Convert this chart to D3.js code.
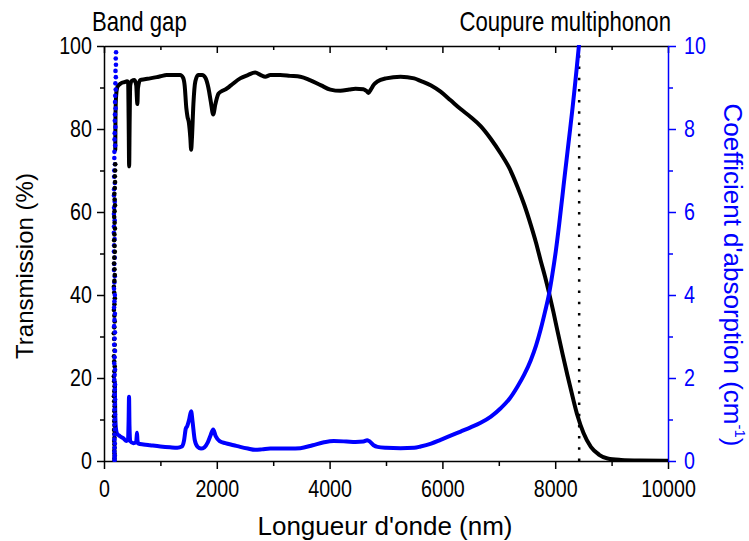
<!DOCTYPE html>
<html>
<head>
<meta charset="utf-8">
<script src="https://cdn.jsdelivr.net/npm/d3@7"></script>
<style>
  html, body { margin: 0; padding: 0; background: #fff; }
  svg { display: block; font-family: "Liberation Sans", Arial, sans-serif; }
</style>
</head>
<body>
<svg id="chart" width="749" height="541"></svg>
<script>
// ---------------- data ----------------
// Transmission (%) vs wavelength (nm)
const transWl  = [200, 203, 208, 218, 240, 300, 360, 410, 428, 437, 446, 455, 465, 491, 540, 572, 583, 592, 602, 640, 720, 817, 936, 1000, 1112, 1200, 1350, 1400, 1430, 1460, 1480, 1505, 1530, 1545, 1560, 1585, 1620, 1670, 1740, 1800, 1850, 1895, 1936, 1975, 2030, 2100, 2150, 2250, 2415, 2550, 2680, 2780, 2860, 2950, 3126, 3300, 3481, 3650, 3850, 4014, 4192, 4350, 4458, 4600, 4666, 4690, 4730, 4790, 4843, 5000, 5258, 5500, 5613, 5800, 5968, 6146, 6323, 6500, 6678, 6860, 7034, 7190, 7330, 7450, 7567, 7660, 7744, 7820, 7893, 7970, 8041, 8130, 8218, 8310, 8396, 8500, 8632, 8780, 8929, 9165, 9500, 10000];
const transVal = [75, 82, 86, 88.5, 90.2, 91.0, 91.3, 91.5, 91.2, 82, 71, 82, 90.5, 91.6, 91.8, 90.5, 87.5, 86, 89.8, 91.8, 92.0, 92.2, 92.5, 92.7, 93.0, 93.0, 93.0, 92.4, 90.5, 85, 83, 81.5, 78, 75, 78, 86, 91.5, 93.0, 93.0, 92.3, 90, 86.5, 83.5, 86, 88.5, 89.2, 89.5, 90.5, 92.2, 93.0, 93.6, 93.0, 92.6, 93.0, 93.0, 92.8, 92.6, 91.8, 90.5, 89.5, 89.2, 89.5, 89.7, 89.6, 89.0, 88.7, 89.5, 90.8, 91.4, 92.2, 92.6, 92.2, 91.6, 90.5, 89.0, 86.9, 84.8, 82.9, 80.7, 77.6, 74.1, 70.5, 66.1, 61.8, 56.9, 52.6, 48.2, 44.4, 40.4, 35.8, 31.3, 25.8, 20.6, 15.4, 10.9, 6.8, 3.4, 1.5, 0.6, 0.25, 0.1, 0.05];

// Transmission absorption-edge points (sparse, shown as dots)
const transEdgeWl  = [186, 185, 188, 186, 183, 187, 185, 181, 186, 184, 179, 188, 183, 178, 185, 189, 181, 176, 183, 188, 180, 175, 184, 190, 181, 176, 186, 189, 180, 174, 182, 190, 184, 176, 185, 192, 181, 175, 184, 191, 186, 178, 183, 192, 187, 180, 185, 194, 188, 181, 187, 195, 189, 184, 191, 196, 192, 197, 199];
const transEdgeVal = [0, 0.6, 1.2, 1.8, 2.5, 3.2, 4.0, 4.8, 5.6, 6.5, 7.5, 8.5, 9.6, 10.8, 12, 13.2, 14.4, 15.6, 16.8, 18, 19.2, 20.4, 21.6, 22.8, 24, 25.2, 26.6, 28, 29.4, 30.8, 32.2, 33.6, 35, 36.4, 37.8, 39.2, 40.6, 42, 43.4, 44.8, 46.2, 47.6, 49, 50.4, 51.8, 53.2, 54.6, 56, 57.4, 58.8, 60.2, 61.6, 63, 64.4, 65.8, 67.2, 68.6, 70, 71.5];

// Absorption coefficient (cm-1) vs wavelength (nm)
const absWl  = [193, 196, 200, 206, 214, 230, 280, 340, 400, 425, 436, 444, 452, 465, 520, 570, 580, 586, 593, 610, 700, 817, 1000, 1172, 1300, 1380, 1420, 1450, 1475, 1510, 1545, 1570, 1610, 1660, 1720, 1780, 1840, 1890, 1936, 1980, 2050, 2150, 2300, 2415, 2550, 2680, 2800, 2950, 3126, 3300, 3481, 3700, 3900, 4073, 4300, 4458, 4600, 4666, 4700, 4780, 4850, 5000, 5258, 5500, 5613, 5800, 5968, 6146, 6323, 6500, 6678, 6860, 7034, 7190, 7330, 7450, 7567, 7660, 7744, 7820, 7893, 7950, 8010, 8070, 8129, 8175, 8218, 8265, 8307, 8350, 8384, 8420, 8440];
const absVal = [1.9, 1.45, 1.1, 0.88, 0.76, 0.66, 0.6, 0.55, 0.48, 0.52, 0.95, 1.55, 0.85, 0.48, 0.43, 0.45, 0.6, 0.68, 0.5, 0.42, 0.4, 0.38, 0.35, 0.33, 0.32, 0.35, 0.5, 0.78, 0.84, 1.0, 1.2, 0.95, 0.5, 0.34, 0.3, 0.33, 0.45, 0.62, 0.76, 0.6, 0.48, 0.43, 0.38, 0.34, 0.3, 0.27, 0.28, 0.3, 0.3, 0.3, 0.31, 0.38, 0.45, 0.48, 0.47, 0.46, 0.47, 0.5, 0.48, 0.38, 0.34, 0.32, 0.31, 0.32, 0.35, 0.42, 0.51, 0.61, 0.71, 0.81, 0.92, 1.07, 1.27, 1.5, 1.79, 2.08, 2.43, 2.78, 3.18, 3.6, 4.04, 4.5, 5.05, 5.7, 6.4, 6.95, 7.45, 8.0, 8.5, 9.05, 9.5, 10.0, 10.3];

// Absorption-edge points near the band gap (sparse, shown as dots)
const absEdgeWl  = [214, 208, 212, 204, 210, 202, 208, 199, 196, 206, 194, 192, 202, 190, 187, 198, 185, 183, 195, 182, 180, 192, 179, 177, 190, 178, 176, 189, 177, 175, 188, 180, 176, 190, 182, 177, 191, 184, 178, 192, 185, 179, 193, 186, 180, 194, 187, 181, 195, 188, 182, 196, 189, 183, 196, 190, 184, 197, 191, 185, 195, 190, 186, 193, 189, 185, 192, 188, 185, 190, 187, 188];
const absEdgeVal = [9.85, 9.7, 9.55, 9.4, 9.25, 9.1, 8.95, 8.8, 8.65, 8.5, 8.35, 8.2, 8.05, 7.9, 7.75, 7.6, 7.45, 7.3, 7.15, 7.0, 6.85, 6.7, 6.55, 6.4, 6.25, 6.1, 5.95, 5.8, 5.65, 5.5, 5.35, 5.2, 5.05, 4.9, 4.75, 4.6, 4.45, 4.3, 4.15, 4.0, 3.85, 3.7, 3.55, 3.4, 3.25, 3.1, 2.95, 2.8, 2.65, 2.5, 2.35, 2.2, 2.08, 1.96, 1.84, 1.72, 1.6, 1.48, 1.36, 1.24, 1.12, 1.0, 0.88, 0.76, 0.64, 0.52, 0.42, 0.32, 0.22, 0.14, 0.07, 0.02];

// Markers and axes
const multiphononWl = 8425;
const xTicks = [0, 2000, 4000, 6000, 8000, 10000];
const yLeftTicks = [0, 20, 40, 60, 80, 100];
const yRightTicks = [0, 2, 4, 6, 8, 10];
const labels = { bandGap: "Band gap", multiphonon: "Coupure multiphonon",
                 x: "Longueur d'onde (nm)", yLeft: "Transmission (%)", yRight: "Coefficient d'absorption (cm" };

// ---------------- layout ----------------
const W = 749, H = 541;
const m = { left: 104, right: 81, top: 46, bottom: 80 };
const pw = W - m.left - m.right, ph = H - m.top - m.bottom;
const BLUE = "#0000ff";
const NARROW = 0.82;   // the reference uses a narrow face for ticks and notes

const svg = d3.select("#chart");
const g = svg.append("g").attr("transform", `translate(${m.left},${m.top})`);

const x = d3.scaleLinear().domain([0, 10000]).range([0, pw]);
const yL = d3.scaleLinear().domain([0, 100]).range([ph, 0]);
const yR = d3.scaleLinear().domain([0, 10]).range([ph, 0]);

g.append("defs").append("clipPath").attr("id", "clip")
  .append("rect").attr("x", 0).attr("y", -1).attr("width", pw).attr("height", ph + 2);

// horizontally condense a text around its own anchor point
function narrow(sel) {
  sel.each(function () {
    const t = d3.select(this);
    const x0 = +(t.attr("x") || 0);
    t.attr("x", x0 / NARROW).attr("transform", `scale(${NARROW},1)`);
  });
}

// ---------------- axes ----------------
function styleAxis(sel, color) {
  sel.selectAll("path.domain").attr("stroke", color).attr("stroke-width", 1.5);
  sel.selectAll(".tick line").attr("stroke", color).attr("stroke-width", 1.5);
  sel.selectAll(".tick text").attr("fill", color).style("font-size", "24px")
     .style("font-family", "'Liberation Sans', Arial, sans-serif").call(narrow);
}
const minorX = d3.range(1000, 10000, 2000);
const minorY = d3.range(10, 100, 20);
const minorYR = d3.range(1, 10, 2);
const fmt = d3.format("d");

// bottom
const gxB = g.append("g").attr("transform", `translate(0,${ph})`)
  .call(d3.axisBottom(x).tickValues(xTicks).tickFormat(fmt).tickSize(8).tickPadding(11).tickSizeOuter(0));
styleAxis(gxB, "#000");
g.append("g").attr("transform", `translate(0,${ph})`)
  .call(d3.axisBottom(x).tickValues(minorX).tickSize(5).tickFormat(""))
  .call(s => { s.select(".domain").remove(); s.selectAll("text").remove(); styleAxis(s, "#000"); });
// top (inward ticks)
const gxT = g.append("g")
  .call(d3.axisBottom(x).tickValues(xTicks).tickSize(7).tickFormat("").tickSizeOuter(0))
  .call(s => s.selectAll("text").remove());
styleAxis(gxT, "#000");
g.append("g").call(d3.axisBottom(x).tickValues(minorX).tickSize(4).tickFormat(""))
  .call(s => { s.select(".domain").remove(); s.selectAll("text").remove(); styleAxis(s, "#000"); });
// left
const gyL = g.append("g")
  .call(d3.axisLeft(yL).tickValues(yLeftTicks).tickFormat(fmt).tickSize(7).tickPadding(5).tickSizeOuter(0));
styleAxis(gyL, "#000");
g.append("g").call(d3.axisLeft(yL).tickValues(minorY).tickSize(4).tickFormat(""))
  .call(s => { s.select(".domain").remove(); s.selectAll("text").remove(); styleAxis(s, "#000"); });
// right (blue)
const gyR = g.append("g").attr("transform", `translate(${pw},0)`)
  .call(d3.axisRight(yR).tickValues(yRightTicks).tickFormat(fmt).tickSize(8).tickPadding(8).tickSizeOuter(0));
styleAxis(gyR, BLUE);
g.append("g").attr("transform", `translate(${pw},0)`)
  .call(d3.axisRight(yR).tickValues(minorYR).tickSize(5).tickFormat(""))
  .call(s => { s.select(".domain").remove(); s.selectAll("text").remove(); styleAxis(s, BLUE); });

// ---------------- marks ----------------
const plot = g.append("g").attr("clip-path", "url(#clip)");

// multiphonon cut-off dotted line
plot.append("line")
  .attr("x1", x(multiphononWl)).attr("x2", x(multiphononWl))
  .attr("y1", yL(0)).attr("y2", yL(100))
  .attr("stroke", "#000").attr("stroke-width", 2.5).attr("stroke-dasharray", "2.5,8.7");

const trans = transWl.map((w, i) => [w, transVal[i]]);
const abs = absWl.map((w, i) => [w, absVal[i]]);
const transEdge = transEdgeWl.map((w, i) => [w, transEdgeVal[i]]);
const absEdge = absEdgeWl.map((w, i) => [w, absEdgeVal[i]]);

plot.append("path").datum(trans)
  .attr("fill", "none").attr("stroke", "#000").attr("stroke-width", 4)
  .attr("stroke-linejoin", "round").attr("stroke-linecap", "round")
  .attr("d", d3.line().x(d => x(d[0])).y(d => yL(d[1])).curve(d3.curveMonotoneX));

plot.append("path").datum(abs)
  .attr("fill", "none").attr("stroke", BLUE).attr("stroke-width", 4)
  .attr("stroke-linejoin", "round").attr("stroke-linecap", "round")
  .attr("d", d3.line().x(d => x(d[0])).y(d => yR(d[1])).curve(d3.curveMonotoneX));

// edge dots: interleave the two series so both colours stay visible
const edgeDots = [];
const n = Math.max(transEdge.length, absEdge.length);
for (let i = 0; i < n; i++) {
  if (i < absEdge.length) edgeDots.push({ px: x(absEdge[i][0]), py: yR(absEdge[i][1]), c: BLUE });
  if (i < transEdge.length) edgeDots.push({ px: x(transEdge[i][0]), py: yL(transEdge[i][1]), c: "#000" });
}
plot.append("g").selectAll("circle").data(edgeDots)
  .join("circle").attr("cx", d => d.px).attr("cy", d => d.py).attr("r", 2.3).attr("fill", d => d.c);

// ---------------- texts ----------------
svg.append("text").attr("x", 92).attr("y", 31).attr("font-size", 27).attr("fill", "#000")
  .text(labels.bandGap).call(narrow);
svg.append("text").attr("x", 671).attr("y", 31).attr("font-size", 27).attr("fill", "#000")
  .attr("text-anchor", "end").text(labels.multiphonon).call(narrow);

svg.append("text").attr("x", 385).attr("y", 535).attr("font-size", 26)
  .attr("text-anchor", "middle").attr("fill", "#000").text(labels.x);

svg.append("text").attr("transform", `translate(33,266) rotate(-90)`)
  .attr("font-size", 24).attr("text-anchor", "middle").attr("fill", "#000").text(labels.yLeft);

const tr = svg.append("text").attr("transform", `translate(724,275) rotate(90)`)
  .attr("font-size", 26).attr("text-anchor", "middle").attr("fill", BLUE);
tr.append("tspan").text(labels.yRight);
tr.append("tspan").attr("font-size", 15).attr("dy", -11).text("-1");
tr.append("tspan").attr("dy", 11).text(")");
</script>
</body>
</html>
